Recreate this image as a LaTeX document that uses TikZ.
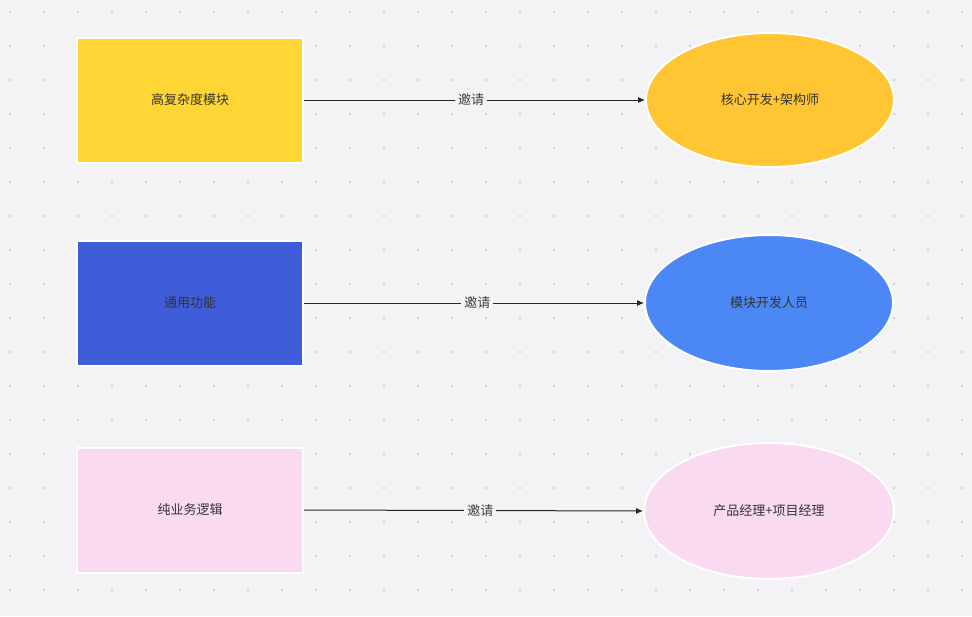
\documentclass[tikz,border=0pt]{standalone}
\usepackage{fontspec}
\newfontfamily\cjk{Noto Sans CJK SC}
\begin{document}
\begin{tikzpicture}[x=1pt,y=-1pt,
  box/.style={draw=white,line width=2pt,minimum width=226pt,minimum height=125pt,font=\cjk\fontsize{13}{15}\selectfont,text=black!80},
  oval/.style={ellipse,draw=white,line width=2pt,font=\cjk\fontsize{13}{15}\selectfont,text=black!80},
  lbl/.style={fill=bg,font=\cjk\fontsize{13}{15}\selectfont,text=black!75,inner sep=3pt},
  arr/.style={-{Latex[length=7pt,width=6pt]},line width=1pt,black!85}]
\usetikzlibrary{shapes.geometric,arrows.meta}
\definecolor{bg}{HTML}{F3F3F5}
\definecolor{c1}{HTML}{FFD633}\definecolor{c2}{HTML}{3F5DD9}\definecolor{c3}{HTML}{FADAF0}
\definecolor{e1}{HTML}{FFC533}\definecolor{e2}{HTML}{4B88F5}
\fill[bg] (0,0) rectangle (972,616);
\useasboundingbox (0,0) rectangle (972,616);
\foreach \i in {0,...,28}{\foreach \j in {0,...,17}{\fill[gray!45] (10+34*\i,12+34*\j) circle (1.1pt);}}
\node[box,fill=c1] (r1) at (190,100) {高复杂度模块};
\node[box,fill=c2] (r2) at (190,303) {通用功能};
\node[box,fill=c3] (r3) at (190,510) {纯业务逻辑};
\node[oval,fill=e1,minimum width=248pt,minimum height=134pt] (o1) at (770,100) {核心开发+架构师};
\node[oval,fill=e2,minimum width=248pt,minimum height=136pt] (o2) at (769,303) {模块开发人员};
\node[oval,fill=c3,minimum width=250pt,minimum height=136pt] (o3) at (769,511) {产品经理+项目经理};
\draw[arr] (r1.east) -- (o1.west) node[lbl,pos=0.49] {邀请};
\draw[arr] (r2.east) -- (o2.west) node[lbl,pos=0.51] {邀请};
\draw[arr] (r3.east) -- (o3.west) node[lbl,pos=0.52] {邀请};
\end{tikzpicture}
\end{document}
